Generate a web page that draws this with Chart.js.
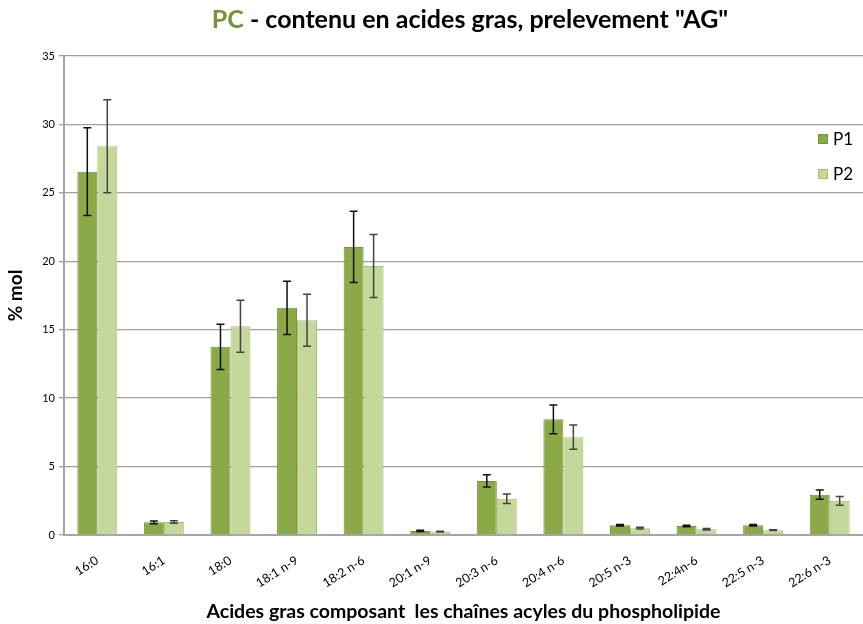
<!DOCTYPE html>
<html>
<head>
<meta charset="utf-8">
<script src="https://cdn.jsdelivr.net/npm/chart.js@4.4.1/dist/chart.umd.min.js"></script>
<style>
  html, body { margin: 0; padding: 0; background: #fff; }
  #wrap { width: 863px; height: 624px; }
</style>
</head>
<body>
<div id="wrap"><canvas id="canvas1" width="863" height="624"></canvas></div>
<script>
const acides = ["16:0", "16:1", "18:0", "18:1 n-9", "18:2 n-6", "20:1 n-9", "20:3 n-6", "20:4 n-6", "20:5 n-3", "22:4n-6", "22:5 n-3", "22:6 n-3"];
const p1 = [26.55, 0.93, 13.75, 16.6, 21.05, 0.3, 3.95, 8.45, 0.71, 0.66, 0.71, 2.95];
const p1Err = [3.2, 0.1, 1.65, 1.95, 2.6, 0.04, 0.45, 1.05, 0.06, 0.06, 0.06, 0.33];
const p2 = [28.4, 0.95, 15.25, 15.7, 19.65, 0.25, 2.65, 7.15, 0.5, 0.42, 0.35, 2.5];
const p2Err = [3.4, 0.1, 1.9, 1.9, 2.3, 0.03, 0.35, 0.88, 0.06, 0.06, 0.03, 0.32];
const yTicks = [0, 5, 10, 15, 20, 25, 30, 35];

const FONT = "Lato, 'Open Sans', sans-serif";

// error bars drawn on top of each bar
const errorBars = {
  id: "errorBars",
  afterDatasetsDraw(chart) {
    const ctx = chart.ctx;
    const y = chart.scales.y;
    chart.data.datasets.forEach((ds, i) => {
      const meta = chart.getDatasetMeta(i);
      meta.data.forEach((bar, j) => {
        const v = ds.data[j], e = ds.errors[j];
        const top = y.getPixelForValue(v + e);
        const bot = y.getPixelForValue(v - e);
        ctx.save();
        ctx.strokeStyle = ds.errColor;
        ctx.lineWidth = 1.5;
        ctx.beginPath();
        ctx.moveTo(bar.x, top); ctx.lineTo(bar.x, bot);
        ctx.moveTo(bar.x - 4, top); ctx.lineTo(bar.x + 4, top);
        ctx.moveTo(bar.x - 4, bot); ctx.lineTo(bar.x + 4, bot);
        ctx.stroke();
        ctx.restore();
      });
    });
  }
};

// two-colour title and legend inside the plot area
const decor = {
  id: "decor",
  afterDraw(chart) {
    const ctx = chart.ctx;
    ctx.save();
    ctx.font = "bold 25px " + FONT;
    ctx.textBaseline = "middle";
    const a = "PC", b = " - contenu en acides gras, prelevement \"AG\"";
    const w = ctx.measureText(a).width + ctx.measureText(b).width;
    let x = 470 - w / 2;
    ctx.fillStyle = "#77933C";
    ctx.fillText(a, x, 20);
    x += ctx.measureText(a).width;
    ctx.fillStyle = "#000";
    ctx.fillText(b, x, 20);

    ctx.font = "17px " + FONT;
    chart.data.datasets.forEach((ds, i) => {
      const ly = 139 + i * 35;
      ctx.fillStyle = ds.backgroundColor;
      ctx.fillRect(818, ly - 5, 10, 10);
      ctx.strokeStyle = ds.borderColor;
      ctx.lineWidth = 1;
      ctx.strokeRect(818.5, ly - 4.5, 9, 9);
      ctx.fillStyle = "#000";
      ctx.fillText(ds.label, 833, ly + 1);
    });
    ctx.restore();
  }
};

new Chart(document.getElementById("canvas1").getContext("2d"), {
  type: "bar",
  data: {
    labels: acides,
    datasets: [
      { label: "P1", data: p1, errors: p1Err, errColor: "#111",
        backgroundColor: "#8BA947", borderColor: "#76923C", borderWidth: 1 },
      { label: "P2", data: p2, errors: p2Err, errColor: "#444",
        backgroundColor: "#C4D89B", borderColor: "#A4C06A", borderWidth: 1 }
    ]
  },
  options: {
    responsive: false,
    animation: false,
    layout: { padding: { top: 56, right: 0, left: 0, bottom: 0 } },
    categoryPercentage: 0.6,
    barPercentage: 1.0,
    plugins: {
      legend: { display: false },
      tooltip: { enabled: false }
    },
    scales: {
      x: {
        grid: { display: false, drawTicks: false },
        border: { color: "#A6A6A6", width: 2 },
        ticks: { font: { family: FONT, size: 12.5 }, color: "#000",
                 minRotation: 32, maxRotation: 32, padding: 18 },
        title: { display: true, text: "Acides gras composant  les chaînes acyles du phospholipide",
                 font: { family: FONT, size: 19.5, weight: "bold" }, color: "#000", padding: { top: 4, bottom: 1 } },
        afterFit(s) { s.height = 89; }
      },
      y: {
        min: 0, max: 35,
        afterBuildTicks(s) { s.ticks = yTicks.map(v => ({ value: v })); },
        grid: { color: "#A0A0A0", lineWidth: 1.3, drawTicks: true, tickLength: 5 },
        border: { color: "#A6A6A6", width: 2 },
        ticks: { font: { family: FONT, size: 11 }, color: "#000", padding: 4 },
        title: { display: true, text: "% mol",
                 font: { family: FONT, size: 19, weight: "bold" }, color: "#000", padding: 4 },
        afterFit(s) { s.width = 64; }
      }
    }
  },
  plugins: [errorBars, decor]
});
</script>
</body>
</html>
